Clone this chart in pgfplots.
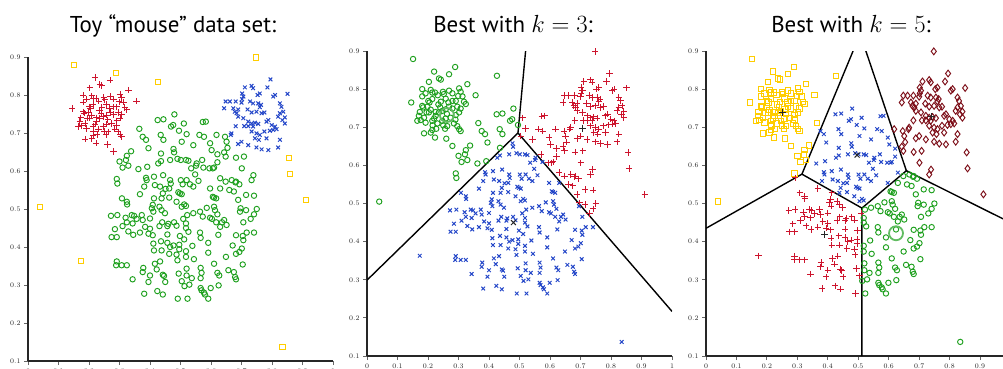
\documentclass[border=0pt]{standalone}
\usepackage{pgfplots}
\pgfplotsset{compat=1.18}
\usepackage{pgfplotstable}
\usepackage{fontspec}
\newfontfamily\titlefont{PT Sans}
\definecolor{cred}{RGB}{205,20,45}
\definecolor{cblue}{RGB}{35,70,200}
\definecolor{cgreen}{RGB}{30,160,30}
\definecolor{cyellow}{RGB}{255,205,0}
\definecolor{cdark}{RGB}{125,15,25}

% c: 1 = left ear, 2 = right ear, 3 = head, 4 = noise
\pgfplotstableread[row sep=\\]{
x y c\\
0.220 0.846 1\\ 0.269 0.839 1\\ 0.203 0.819 1\\ 0.242 0.825 1\\ 0.236 0.828 1\\ 0.329 0.813 1\\ 0.356 0.784 1\\ 0.145 0.765 1\\
0.181 0.800 1\\ 0.192 0.789 1\\ 0.181 0.781 1\\ 0.209 0.798 1\\ 0.214 0.791 1\\ 0.223 0.791 1\\ 0.249 0.793 1\\ 0.252 0.787 1\\
0.269 0.796 1\\ 0.280 0.789 1\\ 0.302 0.802 1\\ 0.307 0.793 1\\ 0.313 0.781 1\\ 0.299 0.782 1\\ 0.318 0.767 1\\ 0.324 0.761 1\\
0.291 0.769 1\\ 0.280 0.769 1\\ 0.267 0.765 1\\ 0.258 0.775 1\\ 0.242 0.767 1\\ 0.234 0.760 1\\ 0.214 0.774 1\\ 0.205 0.765 1\\
0.198 0.754 1\\ 0.181 0.756 1\\ 0.209 0.746 1\\ 0.203 0.739 1\\ 0.195 0.739 1\\ 0.173 0.740 1\\ 0.165 0.717 1\\ 0.176 0.719 1\\
0.187 0.725 1\\ 0.192 0.712 1\\ 0.214 0.717 1\\ 0.220 0.723 1\\ 0.225 0.740 1\\ 0.236 0.739 1\\ 0.247 0.743 1\\ 0.258 0.747 1\\
0.269 0.754 1\\ 0.280 0.749 1\\ 0.296 0.754 1\\ 0.307 0.749 1\\ 0.302 0.739 1\\ 0.291 0.732 1\\ 0.274 0.725 1\\ 0.258 0.723 1\\
0.247 0.717 1\\ 0.231 0.710 1\\ 0.227 0.696 1\\ 0.256 0.696 1\\ 0.263 0.703 1\\ 0.285 0.710 1\\ 0.296 0.703 1\\ 0.302 0.695 1\\
0.307 0.690 1\\ 0.214 0.693 1\\ 0.209 0.686 1\\ 0.187 0.684 1\\ 0.223 0.673 1\\ 0.260 0.670 1\\ 0.280 0.651 1\\ 0.170 0.730 1\\
0.184 0.752 1\\ 0.201 0.769 1\\ 0.240 0.752 1\\ 0.225 0.730 1\\ 0.262 0.735 1\\ 0.232 0.784 1\\ 0.290 0.720 1\\ 0.215 0.705 1\\
0.250 0.705 1\\
0.795 0.841 2\\ 0.711 0.820 2\\ 0.733 0.824 2\\ 0.738 0.818 2\\ 0.785 0.820 2\\ 0.760 0.804 2\\ 0.753 0.800 2\\ 0.810 0.800 2\\
0.804 0.796 2\\ 0.851 0.803 2\\ 0.648 0.783 2\\ 0.662 0.783 2\\ 0.681 0.783 2\\ 0.702 0.804 2\\ 0.706 0.796 2\\ 0.702 0.789 2\\
0.700 0.780 2\\ 0.728 0.783 2\\ 0.738 0.778 2\\ 0.755 0.778 2\\ 0.764 0.774 2\\ 0.760 0.768 2\\ 0.643 0.765 2\\ 0.673 0.765 2\\
0.689 0.762 2\\ 0.678 0.756 2\\ 0.684 0.752 2\\ 0.689 0.743 2\\ 0.720 0.762 2\\ 0.733 0.754 2\\ 0.749 0.756 2\\ 0.766 0.752 2\\
0.775 0.754 2\\ 0.826 0.778 2\\ 0.831 0.769 2\\ 0.837 0.756 2\\ 0.826 0.752 2\\ 0.820 0.743 2\\ 0.842 0.741 2\\ 0.834 0.734 2\\
0.788 0.734 2\\ 0.782 0.730 2\\ 0.706 0.739 2\\ 0.722 0.730 2\\ 0.733 0.725 2\\ 0.744 0.727 2\\ 0.755 0.724 2\\ 0.738 0.717 2\\
0.722 0.718 2\\ 0.709 0.718 2\\ 0.681 0.718 2\\ 0.799 0.721 2\\ 0.810 0.717 2\\ 0.815 0.710 2\\ 0.804 0.708 2\\ 0.793 0.706 2\\
0.775 0.704 2\\ 0.733 0.704 2\\ 0.749 0.699 2\\ 0.760 0.695 2\\ 0.667 0.699 2\\ 0.665 0.695 2\\ 0.744 0.686 2\\ 0.757 0.682 2\\
0.782 0.686 2\\ 0.826 0.682 2\\ 0.700 0.677 2\\ 0.689 0.671 2\\ 0.722 0.668 2\\ 0.749 0.662 2\\ 0.766 0.657 2\\ 0.788 0.655 2\\
0.820 0.662 2\\ 0.842 0.725 2\\
0.425 0.734 3\\ 0.444 0.736 3\\ 0.480 0.749 3\\ 0.511 0.725 3\\ 0.469 0.717 3\\ 0.476 0.721 3\\ 0.365 0.711 3\\ 0.376 0.690 3\\
0.387 0.682 3\\ 0.435 0.695 3\\ 0.444 0.682 3\\ 0.573 0.729 3\\ 0.583 0.730 3\\ 0.562 0.695 3\\ 0.577 0.690 3\\ 0.504 0.677 3\\
0.520 0.697 3\\ 0.495 0.706 3\\ 0.597 0.673 3\\ 0.618 0.695 3\\ 0.646 0.690 3\\ 0.651 0.677 3\\
0.338 0.652 3\\ 0.395 0.660 3\\ 0.436 0.646 3\\ 0.477 0.658 3\\ 0.479 0.649 3\\ 0.542 0.668 3\\ 0.602 0.655 3\\ 0.621 0.644 3\\
0.643 0.649 3\\ 0.648 0.638 3\\ 0.654 0.661 3\\ 0.682 0.635 3\\ 0.708 0.638 3\\ 0.300 0.625 3\\ 0.324 0.640 3\\ 0.321 0.629 3\\
0.310 0.609 3\\ 0.329 0.614 3\\ 0.427 0.620 3\\ 0.436 0.626 3\\ 0.466 0.629 3\\ 0.490 0.632 3\\ 0.501 0.629 3\\ 0.518 0.629 3\\
0.526 0.627 3\\ 0.571 0.629 3\\ 0.535 0.607 3\\ 0.551 0.614 3\\ 0.553 0.620 3\\ 0.575 0.609 3\\ 0.595 0.607 3\\ 0.606 0.607 3\\
0.610 0.609 3\\ 0.621 0.623 3\\ 0.701 0.607 3\\ 0.362 0.605 3\\ 0.391 0.611 3\\ 0.739 0.589 3\\ 0.733 0.576 3\\ 0.291 0.579 3\\
0.293 0.567 3\\ 0.387 0.582 3\\ 0.389 0.576 3\\ 0.413 0.585 3\\ 0.443 0.589 3\\ 0.466 0.576 3\\ 0.468 0.567 3\\ 0.501 0.576 3\\
0.520 0.576 3\\ 0.548 0.591 3\\ 0.559 0.574 3\\ 0.630 0.581 3\\ 0.648 0.572 3\\ 0.668 0.576 3\\ 0.682 0.572 3\\ 0.693 0.565 3\\
0.381 0.559 3\\ 0.367 0.539 3\\ 0.416 0.563 3\\ 0.433 0.559 3\\ 0.451 0.553 3\\ 0.463 0.554 3\\ 0.442 0.541 3\\ 0.493 0.544 3\\
0.498 0.541 3\\ 0.504 0.539 3\\ 0.507 0.565 3\\ 0.531 0.565 3\\ 0.542 0.559 3\\ 0.597 0.554 3\\ 0.630 0.554 3\\ 0.660 0.550 3\\
0.675 0.546 3\\ 0.680 0.570 3\\ 0.715 0.537 3\\ 0.741 0.535 3\\ 0.606 0.532 3\\ 0.610 0.530 3\\ 0.617 0.528 3\\ 0.308 0.528 3\\
0.324 0.519 3\\ 0.325 0.512 3\\ 0.413 0.528 3\\ 0.438 0.528 3\\ 0.463 0.530 3\\ 0.487 0.519 3\\ 0.512 0.512 3\\ 0.518 0.508 3\\
0.689 0.524 3\\ 0.431 0.506 3\\ 0.409 0.511 3\\ 0.406 0.502 3\\ 0.411 0.493 3\\ 0.438 0.497 3\\ 0.449 0.489 3\\ 0.504 0.506 3\\
0.522 0.484 3\\ 0.542 0.489 3\\ 0.586 0.503 3\\ 0.610 0.506 3\\ 0.613 0.497 3\\ 0.621 0.486 3\\ 0.564 0.493 3\\ 0.573 0.480 3\\
0.597 0.477 3\\ 0.603 0.474 3\\ 0.643 0.471 3\\ 0.697 0.502 3\\ 0.715 0.497 3\\ 0.695 0.493 3\\ 0.750 0.500 3\\ 0.741 0.486 3\\
0.730 0.474 3\\ 0.272 0.482 3\\ 0.293 0.484 3\\ 0.320 0.477 3\\ 0.340 0.484 3\\ 0.348 0.482 3\\ 0.373 0.484 3\\ 0.376 0.471 3\\
0.400 0.475 3\\ 0.324 0.465 3\\ 0.343 0.462 3\\ 0.356 0.474 3\\ 0.440 0.465 3\\ 0.460 0.461 3\\ 0.479 0.465 3\\ 0.509 0.474 3\\
0.518 0.462 3\\ 0.617 0.465 3\\ 0.636 0.465 3\\ 0.706 0.465 3\\
0.285 0.447 3\\ 0.274 0.426 3\\ 0.291 0.426 3\\ 0.310 0.455 3\\ 0.329 0.441 3\\ 0.345 0.432 3\\ 0.367 0.438 3\\ 0.384 0.453 3\\
0.400 0.448 3\\ 0.395 0.435 3\\ 0.409 0.431 3\\ 0.431 0.455 3\\ 0.457 0.455 3\\ 0.487 0.456 3\\ 0.518 0.450 3\\ 0.526 0.440 3\\
0.457 0.433 3\\ 0.498 0.429 3\\ 0.512 0.420 3\\ 0.564 0.438 3\\ 0.566 0.424 3\\ 0.591 0.411 3\\ 0.624 0.432 3\\ 0.630 0.453 3\\
0.651 0.458 3\\ 0.682 0.431 3\\ 0.704 0.429 3\\ 0.706 0.418 3\\ 0.717 0.438 3\\ 0.741 0.438 3\\ 0.411 0.409 3\\ 0.413 0.391 3\\
0.436 0.415 3\\ 0.438 0.391 3\\ 0.457 0.411 3\\ 0.466 0.400 3\\ 0.477 0.404 3\\ 0.463 0.382 3\\ 0.487 0.380 3\\ 0.496 0.406 3\\
0.496 0.394 3\\ 0.518 0.389 3\\ 0.518 0.374 3\\ 0.490 0.365 3\\ 0.539 0.403 3\\ 0.544 0.368 3\\ 0.591 0.385 3\\ 0.649 0.374 3\\
0.671 0.404 3\\ 0.682 0.382 3\\ 0.693 0.387 3\\ 0.701 0.396 3\\ 0.291 0.362 3\\ 0.289 0.352 3\\ 0.307 0.352 3\\ 0.324 0.352 3\\
0.343 0.315 3\\ 0.378 0.345 3\\ 0.376 0.334 3\\ 0.400 0.325 3\\ 0.416 0.356 3\\ 0.433 0.362 3\\ 0.422 0.341 3\\ 0.442 0.327 3\\
0.446 0.324 3\\ 0.450 0.308 3\\ 0.395 0.308 3\\ 0.494 0.330 3\\ 0.520 0.343 3\\ 0.520 0.325 3\\ 0.537 0.318 3\\ 0.504 0.310 3\\
0.513 0.297 3\\ 0.529 0.301 3\\ 0.566 0.345 3\\ 0.569 0.332 3\\ 0.566 0.318 3\\ 0.566 0.292 3\\ 0.569 0.286 3\\ 0.577 0.280 3\\
0.580 0.275 3\\ 0.599 0.292 3\\ 0.610 0.356 3\\ 0.621 0.332 3\\ 0.627 0.325 3\\ 0.625 0.299 3\\ 0.657 0.339 3\\ 0.675 0.334 3\\
0.679 0.321 3\\ 0.682 0.315 3\\ 0.704 0.354 3\\ 0.381 0.277 3\\ 0.424 0.284 3\\ 0.442 0.275 3\\ 0.491 0.264 3\\ 0.523 0.264 3\\
0.591 0.264 3\\
0.151 0.879 4\\ 0.289 0.858 4\\ 0.426 0.835 4\\ 0.748 0.899 4\\ 0.173 0.363 4\\ 0.835 0.137 4\\ 0.040 0.505 4\\ 0.856 0.634 4\\
0.859 0.592 4\\ 0.911 0.524 4\\
}\mouse

% squared distance of the current row to a centre, and "closer to A than to B"
\newcommand{\D}[2]{((\thisrow{x}-#1)*(\thisrow{x}-#1)+(\thisrow{y}-#2)*(\thisrow{y}-#2))}
\newcommand{\Lt}[4]{(\D{#1}{#2}<\D{#3}{#4})}
\newcommand{\X}{\thisrow{x}}

\pgfplotsset{
  mouseaxis/.style={
    scale only axis, anchor=south west,
    axis lines=left, axis line style={-, line width=1.3pt, black!85},
    xmin=0, xmax=1, ymin=0.1, ymax=0.9,
    xtick={0,0.1,0.2,0.3,0.4,0.5,0.6,0.7,0.8,0.9,1},
    ytick={0.1,0.2,0.3,0.4,0.5,0.6,0.7,0.8,0.9},
    tick align=outside, major tick length=4bp,
    every tick/.style={black!60, line width=0.9pt},
    ticklabel style={font=\fontsize{7}{8}\selectfont, text=black!85},
    restrict x to domain=-1:2,
  },
  sR/.style={only marks, mark=+, mark size=3.2bp, cred, line width=1pt},
  sB/.style={only marks, mark=x, mark size=2.6bp, cblue, line width=1pt},
  sG/.style={only marks, mark=o, mark size=2.7bp, cgreen, line width=0.95pt},
  sY/.style={only marks, mark=square, mark size=2.7bp, cyellow, line width=1pt},
  sD/.style={only marks, mark=diamond, mark size=3.4bp, cdark, line width=0.95pt},
  vor/.style={no marks, black, line width=1.4pt},
}

\begin{document}
\begin{tikzpicture}
% ---------- panel 1 ----------
\begin{axis}[mouseaxis, at={(28bp,-361bp)}, width=305bp, height=304bp]
\addplot[sG] table[x expr={(\thisrow{c}>2.5 && \thisrow{c}<3.5) ? \X : -10}, y=y]{\mouse};
\addplot[sR] table[x expr={(\thisrow{c}<1.5) ? \X : -10}, y=y]{\mouse};
\addplot[sB] table[x expr={(\thisrow{c}>1.5 && \thisrow{c}<2.5) ? \X : -10}, y=y]{\mouse};
\addplot[sY] table[x expr={(\thisrow{c}>3.5) ? \X : -10}, y=y]{\mouse};
\end{axis}
% ---------- panel 2 : k = 3 ----------
\begin{axis}[mouseaxis, at={(367bp,-356bp)}, width=305bp, height=305bp]
\addplot[sG] table[x expr={(\Lt{0.269}{0.749}{0.502}{0.450} && \Lt{0.269}{0.749}{0.730}{0.696}) ? \X : -10}, y=y]{\mouse};
\addplot[sR] table[x expr={(\Lt{0.730}{0.696}{0.269}{0.749} && \Lt{0.730}{0.696}{0.502}{0.450}) ? \X : -10}, y=y]{\mouse};
\addplot[sB] table[x expr={(\Lt{0.502}{0.450}{0.269}{0.749} && \Lt{0.502}{0.450}{0.730}{0.696}) ? \X : -10}, y=y]{\mouse};
\addplot[vor] coordinates {(0,0.299) (0.495,0.685) (0.520,0.9)};
\addplot[vor] coordinates {(0.495,0.685) (1,0.217)};
\addplot[only marks, mark=o, mark size=7bp, cgreen!70, line width=1.8pt] coordinates {(0.262,0.732)};
\addplot[only marks, mark=+, mark size=3.5bp, black!85, line width=1pt] coordinates {(0.708,0.698)};
\addplot[only marks, mark=x, mark size=3.5bp, black!85, line width=1pt] coordinates {(0.48,0.45)};
\end{axis}
% ---------- panel 3 : k = 5 ----------
\begin{axis}[mouseaxis, at={(706bp,-356bp)}, width=304.5bp, height=305bp]
\addplot[sY] table[x expr={(\Lt{0.25}{0.745}{0.49}{0.62} && \Lt{0.25}{0.745}{0.75}{0.73} && \Lt{0.25}{0.745}{0.398}{0.418} && \Lt{0.25}{0.745}{0.626}{0.418}) ? \X : -10}, y=y]{\mouse};
\addplot[sB] table[x expr={(\Lt{0.49}{0.62}{0.25}{0.745} && \Lt{0.49}{0.62}{0.75}{0.73} && \Lt{0.49}{0.62}{0.398}{0.418} && \Lt{0.49}{0.62}{0.626}{0.418}) ? \X : -10}, y=y]{\mouse};
\addplot[sD] table[x expr={(\Lt{0.75}{0.73}{0.25}{0.745} && \Lt{0.75}{0.73}{0.49}{0.62} && \Lt{0.75}{0.73}{0.398}{0.418} && \Lt{0.75}{0.73}{0.626}{0.418}) ? \X : -10}, y=y]{\mouse};
\addplot[sR] table[x expr={(\Lt{0.398}{0.418}{0.25}{0.745} && \Lt{0.398}{0.418}{0.49}{0.62} && \Lt{0.398}{0.418}{0.75}{0.73} && \Lt{0.398}{0.418}{0.626}{0.418}) ? \X : -10}, y=y]{\mouse};
\addplot[sG] table[x expr={(\Lt{0.626}{0.418}{0.25}{0.745} && \Lt{0.626}{0.418}{0.49}{0.62} && \Lt{0.626}{0.418}{0.75}{0.73} && \Lt{0.626}{0.418}{0.398}{0.418}) ? \X : -10}, y=y]{\mouse};
\addplot[vor] coordinates {(0.483,0.9) (0.315,0.577) (0,0.435)};
\addplot[vor] coordinates {(0.315,0.577) (0.512,0.488) (0.512,0.1)};
\addplot[vor] coordinates {(0.512,0.488) (0.658,0.586) (0.525,0.9)};
\addplot[vor] coordinates {(0.658,0.586) (1,0.450)};
\addplot[only marks, mark=o, mark size=7bp, cgreen!70, line width=1.8pt] coordinates {(0.624,0.422)};
\addplot[only marks, mark=+, mark size=3.5bp, black!85, line width=1pt] coordinates {(0.25,0.74) (0.742,0.727) (0.39,0.42)};
\addplot[only marks, mark=x, mark size=3.5bp, black!85, line width=1pt] coordinates {(0.496,0.627)};
\end{axis}
% ---------- titles ----------
\begin{scope}[every node/.style={anchor=base, font=\titlefont\fontsize{23}{26}\selectfont}]
\node at (173bp,-32bp) {Toy “mouse” data set:};
\node at (513bp,-32bp) {Best with $k=3$:};
\node at (851bp,-32bp) {Best with $k=5$:};
\end{scope}
\pgfresetboundingbox
\path[use as bounding box] (0,0) rectangle (1003bp,-369bp);
\end{tikzpicture}
\end{document}
